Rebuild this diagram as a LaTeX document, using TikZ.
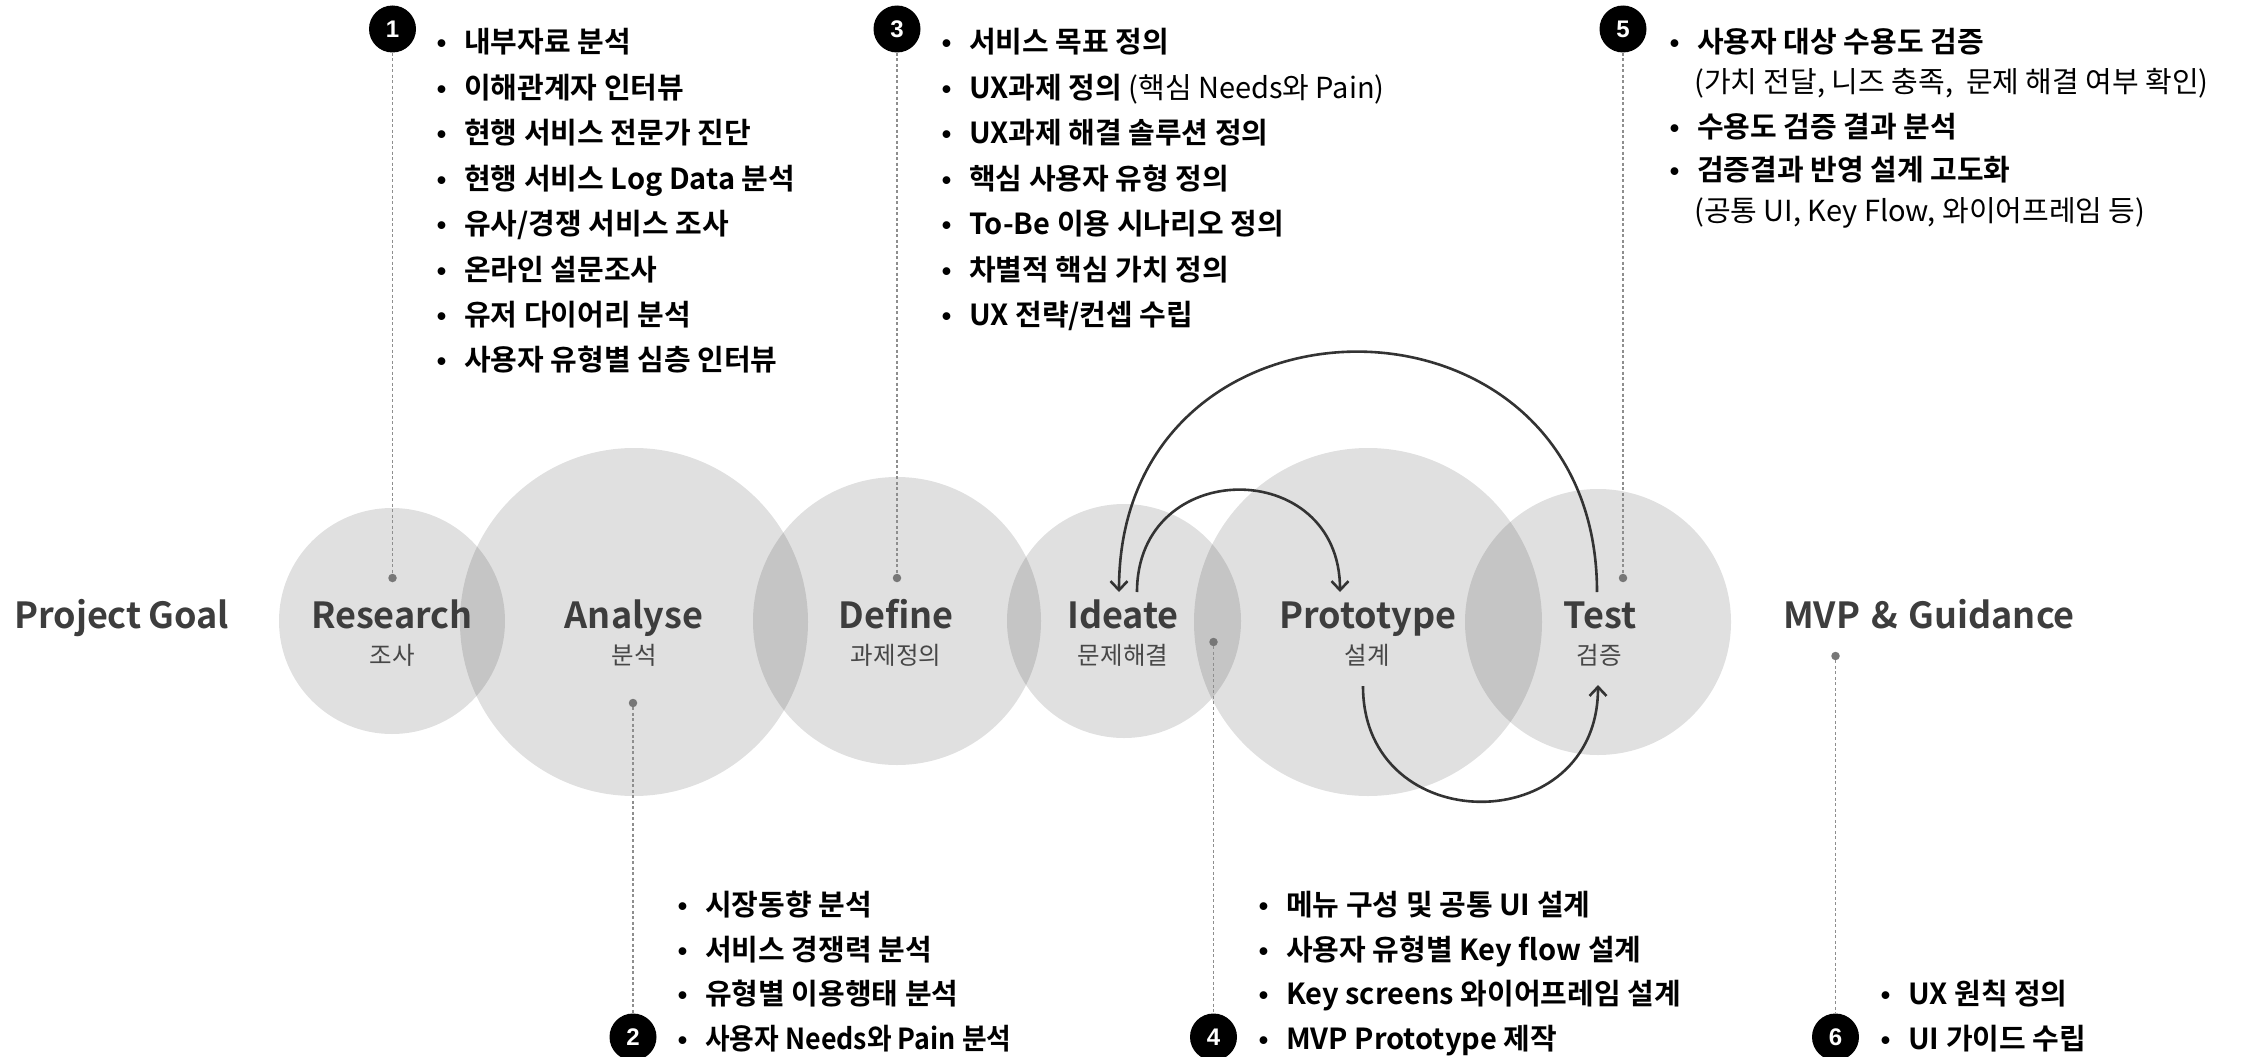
\documentclass[tikz,border=0pt]{standalone}
\usepackage{fontspec}
\setmainfont{Noto Sans CJK KR}
\newfontfamily\titlefont{Noto Sans CJK KR Bold}
\newfontfamily\subfont{Noto Sans CJK KR}
\newfontfamily\itemfont{Noto Sans CJK KR Bold}
\newfontfamily\notefont{Noto Sans CJK KR}
\newfontfamily\numfont{Liberation Sans Bold}
\usetikzlibrary{arrows.meta,calc}

\definecolor{titlegray}{HTML}{3D3D3D}
\definecolor{subgray}{HTML}{474747}
\definecolor{leadgray}{HTML}{8E8E8E}
\definecolor{pingray}{HTML}{777777}
\definecolor{arcgray}{HTML}{333333}

% font set-ups
\newcommand\titlesetup{\titlefont\fontsize{36}{36}\selectfont\spaceskip 11pt\relax}
\newcommand\subsetup{\subfont\fontsize{24.5}{24.5}\selectfont}
\newcommand\itemsetup{\itemfont\fontsize{29}{29}\selectfont}
\newcommand\notesetup{\notefont\fontsize{29}{29}\selectfont}
% hanging bullet placed left of each list line
\newcommand\bul{\makebox[0pt][r]{{\numfont\fontsize{27}{27}\selectfont •}\hspace{18pt}}}

\tikzset{
  phase/.style={circle, fill=black, fill opacity=0.12, draw=none, inner sep=0, minimum size=#1},
  ttl/.style={font=\titlesetup, text=titlegray, inner sep=0,
              anchor=base, text height=27pt, text depth=9pt, outer ysep=9pt},
  sub/.style={font=\subsetup, text=subgray, inner sep=0, anchor=base},
  item/.style={font=\itemsetup, text=black, inner sep=0, anchor=base west},
  note/.style={font=\notesetup, text=black, inner sep=0, anchor=base west},
  badge/.style={circle, fill=black, text=white, inner sep=0, minimum size=47pt,
                font=\numfont\fontsize{24}{24}\selectfont},
  pin/.style={circle, fill=pingray, inner sep=0, minimum size=8.5pt},
  lead/.style={draw=leadgray, line width=1.5pt, dash pattern=on 3pt off 2.5pt},
  loop/.style={draw=arcgray, line width=2.6pt, -{Straight Barb[length=9pt,width=17pt]}},
}

\begin{document}
\begin{tikzpicture}[x=1pt, y=-1pt]
\useasboundingbox (0,0) rectangle (2244,1057);

% phase circles
\node[phase=226pt] (c-research) at (392,621) {};
\node[phase=348pt] (c-analyse)  at (634,622) {};
\node[phase=288pt] (c-define)   at (897,621) {};
\node[phase=234pt] (c-ideate)   at (1124,621) {};
\node[phase=348pt] (c-proto)    at (1368,622) {};
\node[phase=266pt] (c-test)     at (1598,622) {};

% phase titles
\node[ttl, anchor=base west] (t-goal) at (14,628) {Project\hspace{7pt}Goal};
\node[ttl] (t-research) at (392,628) {Research};
\node[ttl] (t-analyse)  at (634,628) {Analyse};
\node[ttl] (t-define)   at (896,628) {Define};
\node[ttl] (t-ideate)   at (1123,628) {Ideate};
\node[ttl] (t-proto)    at (1368,628) {Prototype};
\node[ttl] (t-test)     at (1600,628) {Test};
\node[ttl] (t-mvp)      at (1929,628) {MVP \& Guidance};

\node[sub] (s-research) at (392,664) {조사};
\node[sub] (s-analyse)  at (634,664) {분석};
\node[sub] (s-define)   at (896,664) {과제정의};
\node[sub] (s-ideate)   at (1123,664) {문제해결};
\node[sub] (s-proto)    at (1367,664) {설계};
\node[sub] (s-test)     at (1599,664) {검증};

% iteration loops
\draw[loop] ($(t-test.north)+(-3,0)$) .. controls (1597,272) and (1119,272) .. ($(t-ideate.north)+(-4,0)$);
\draw[loop] ($(t-ideate.north)+(14,0)$) .. controls (1137,456) and (1340,456) .. ($(t-proto.north)+(-28,0)$);
\draw[loop] ($(s-proto.south)+(-4,20)$) .. controls (1363,840) and (1598,840) .. ($(s-test.south)+(-1,19)$);

% numbered badges and leader lines
\node[badge] (b1) at (392.5,29) {1};
\node[badge] (b3) at (897,29) {3};
\node[badge] (b5) at (1623,29) {5};
\node[badge] (b2) at (633,1037) {2};
\node[badge] (b4) at (1213.5,1037) {4};
\node[badge] (b6) at (1835.5,1037) {6};

\node[pin] (p1) at (392.5,578) {};
\node[pin] (p3) at (897,578) {};
\node[pin] (p5) at (1623,578) {};
\node[pin] (p2) at (633,703) {};
\node[pin] (p4) at (1213.5,642) {};
\node[pin] (p6) at (1835.5,656) {};

\draw[lead] (b1) -- (p1);
\draw[lead] (b3) -- (p3);
\draw[lead] (b5) -- (p5);
\draw[lead] (p2) -- (b2);
\draw[lead] (p4) -- (b4);
\draw[lead] (p6) -- (b6);

% list 1: research
\node[item] (l1a) at (464,53)    {\bul 내부자료 분석};
\node[item] (l1b) at (464,98.4)  {\bul 이해관계자 인터뷰};
\node[item] (l1c) at (464,143.8) {\bul 현행 서비스 전문가 진단};
\node[item] (l1d) at (464,189.2) {\bul 현행 서비스 Log Data 분석};
\node[item] (l1e) at (464,234.6) {\bul 유사/경쟁 서비스 조사};
\node[item] (l1f) at (464,280)   {\bul 온라인 설문조사};
\node[item] (l1g) at (464,325.4) {\bul 유저 다이어리 분석};
\node[item] (l1h) at (464,370.8) {\bul 사용자 유형별 심층 인터뷰};

% list 3: define
\node[item] (l3a) at (969,53)    {\bul 서비스 목표 정의};
\node[item] (l3b) at (969,98.4)  {\bul UX과제 정의{\notefont\ (핵심 Needs와 Pain)}};
\node[item] (l3c) at (969,143.8) {\bul UX과제 해결 솔루션 정의};
\node[item] (l3d) at (969,189.2) {\bul 핵심 사용자 유형 정의};
\node[item] (l3e) at (969,234.6) {\bul To-Be 이용 시나리오 정의};
\node[item] (l3f) at (969,280)   {\bul 차별적 핵심 가치 정의};
\node[item] (l3g) at (969,325.4) {\bul UX 전략/컨셉 수립};

% list 5: test
\node[item] (l5a) at (1697,52.5)  {\bul 사용자 대상 수용도 검증};
\node[note] (l5b) at (1694,92.5)  {(가치 전달, 니즈 충족,\ \ 문제 해결 여부 확인)};
\node[item] (l5c) at (1697,137.5) {\bul 수용도 검증 결과 분석};
\node[item] (l5d) at (1697,180.5) {\bul 검증결과 반영 설계 고도화};
\node[note] (l5e) at (1694,221.5) {(공통 UI, Key Flow, 와이어프레임 등)};

% list 2: analyse
\node[item] (l2a) at (705,915.5)  {\bul 시장동향 분석};
\node[item] (l2b) at (705,960)    {\bul 서비스 경쟁력 분석};
\node[item] (l2c) at (705,1004.5) {\bul 유형별 이용행태 분석};
\node[item] (l2d) at (705,1049.5) {\bul \scalebox{0.925}[1]{사용자 Needs와 Pain 분석}};

% list 4: ideate / prototype
\node[item] (l4a) at (1286,915.5)  {\bul 메뉴 구성 및 공통 UI 설계};
\node[item] (l4b) at (1286,960)    {\bul 사용자 유형별 Key flow 설계};
\node[item] (l4c) at (1286,1004.5) {\bul Key screens 와이어프레임 설계};
\node[item] (l4d) at (1286,1049.5) {\bul MVP Prototype 제작};

% list 6: guidance
\node[item] (l6a) at (1908,1004.5) {\bul UX 원칙 정의};
\node[item] (l6b) at (1908,1049.5) {\bul UI 가이드 수립};
\end{tikzpicture}
\end{document}
